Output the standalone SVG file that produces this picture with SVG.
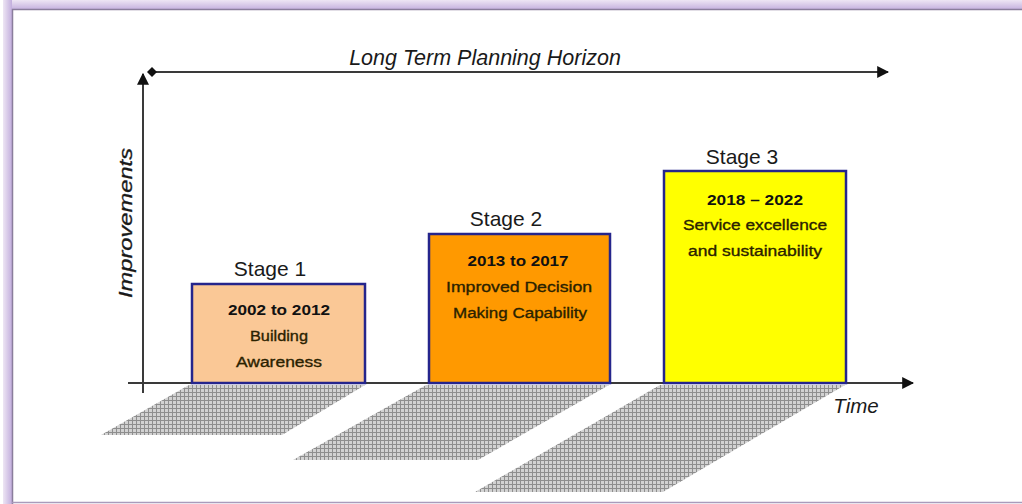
<svg xmlns="http://www.w3.org/2000/svg" width="1022" height="504" viewBox="0 0 1022 504">
  <defs>
    <linearGradient id="frameTop" x1="0" y1="0" x2="0" y2="1">
      <stop offset="0" stop-color="#EEE6F4"/>
      <stop offset="1" stop-color="#C2AEDD"/>
    </linearGradient>
    <linearGradient id="frameLeft" x1="0" y1="0" x2="1" y2="0">
      <stop offset="0" stop-color="#EEE6F4"/>
      <stop offset="1" stop-color="#C2AEDD"/>
    </linearGradient>
    <pattern id="grid" width="4" height="4" patternUnits="userSpaceOnUse">
      <rect width="4" height="4" fill="#d2d2d2"/>
      <path d="M0,0.5H4M0.5,0V4" stroke="#8e8e8e" stroke-width="1"/>
    </pattern>
    <marker id="arrow" viewBox="0 0 10 10" refX="9" refY="5" markerWidth="12" markerHeight="12" markerUnits="userSpaceOnUse" orient="auto">
      <path d="M0,0L10,5L0,10Z" fill="#111"/>
    </marker>
    <marker id="diamond" viewBox="0 0 10 10" refX="5" refY="5" markerWidth="10" markerHeight="10" markerUnits="userSpaceOnUse" orient="auto">
      <path d="M5,0L10,5L5,10L0,5Z" fill="#111"/>
    </marker>
  </defs>
  <style>
    .axis { stroke: #3a3a3a; stroke-width: 2; fill: none; }
    .box { stroke: #25258C; stroke-width: 2.5; }
    .shadow { fill: url(#grid); }
    .label { font-family: "Liberation Sans", Arial, sans-serif; fill: #1a1a1a; }
    .italic { font-style: italic; }
    .stage { font-size: 21px; text-anchor: middle; }
    .body { font-size: 15.5px; text-anchor: middle; fill: #2a2200; stroke: #2a2200; stroke-width: 0.35; }
    .year { font-weight: bold; fill: #111; stroke: none; }
  </style>

  <!-- page frame -->
  <rect x="0" y="0" width="1022" height="504" fill="#fff"/>
  <rect x="3" y="0" width="1019" height="10" fill="url(#frameTop)"/>
  <rect x="3" y="0" width="9" height="504" fill="url(#frameLeft)"/>
  <path d="M12.5,504V9.5H1022" fill="none" stroke="#8A7E9C" stroke-width="1.5"/>
  <path d="M12,502.5H1022" fill="none" stroke="#A99BBB" stroke-width="1.5"/>

  <!-- floor shadows -->
  <g id="shadows">
    <polygon class="shadow" points="189,385 365,385 282,435 101,435"/>
    <polygon class="shadow" points="426,385 609,385 478,460 293,460"/>
    <polygon class="shadow" points="660,385 845,385 663,492 475,492"/>
  </g>

  <!-- axes and horizon -->
  <g id="connectors">
    <line class="axis" x1="152" y1="72" x2="888" y2="72" marker-start="url(#diamond)" marker-end="url(#arrow)"/>
    <line class="axis" x1="143" y1="393" x2="143" y2="74" marker-end="url(#arrow)"/>
    <line class="axis" x1="128" y1="383" x2="913" y2="383" marker-end="url(#arrow)"/>
  </g>

  <text class="label italic" x="485" y="65" font-size="21.5" text-anchor="middle">Long Term Planning Horizon</text>
  <text class="label italic" font-size="18" fill="#111" stroke="#111" stroke-width="0.3" text-anchor="middle" textLength="150" lengthAdjust="spacingAndGlyphs" transform="translate(132,223) rotate(-90)">Improvements</text>
  <text class="label italic" x="856" y="413" font-size="20.5" text-anchor="middle">Time</text>

  <g id="stage1">
    <rect class="box" x="192" y="284" width="173" height="99" fill="#FAC896"/>
    <text class="label stage" x="270" y="276">Stage 1</text>
    <text class="label body year" x="279" y="315" textLength="102" lengthAdjust="spacingAndGlyphs">2002 to 2012</text>
    <text class="label body" x="279" y="341" textLength="58" lengthAdjust="spacingAndGlyphs">Building</text>
    <text class="label body" x="279" y="367" textLength="86" lengthAdjust="spacingAndGlyphs">Awareness</text>
  </g>

  <g id="stage2">
    <rect class="box" x="429" y="234" width="181" height="149" fill="#FF9900"/>
    <text class="label stage" x="506" y="226">Stage 2</text>
    <text class="label body year" x="518" y="266" textLength="101" lengthAdjust="spacingAndGlyphs">2013 to 2017</text>
    <text class="label body" x="519" y="292" textLength="146" lengthAdjust="spacingAndGlyphs">Improved Decision</text>
    <text class="label body" x="520" y="318" textLength="134" lengthAdjust="spacingAndGlyphs">Making Capability</text>
  </g>

  <g id="stage3">
    <rect class="box" x="664" y="171" width="182" height="212" fill="#FFFF00"/>
    <text class="label stage" x="742" y="164">Stage 3</text>
    <text class="label body year" x="755" y="205" textLength="96" lengthAdjust="spacingAndGlyphs">2018 – 2022</text>
    <text class="label body" x="755" y="230" textLength="144" lengthAdjust="spacingAndGlyphs">Service excellence</text>
    <text class="label body" x="755" y="256" textLength="134" lengthAdjust="spacingAndGlyphs">and sustainability</text>
  </g>
</svg>
